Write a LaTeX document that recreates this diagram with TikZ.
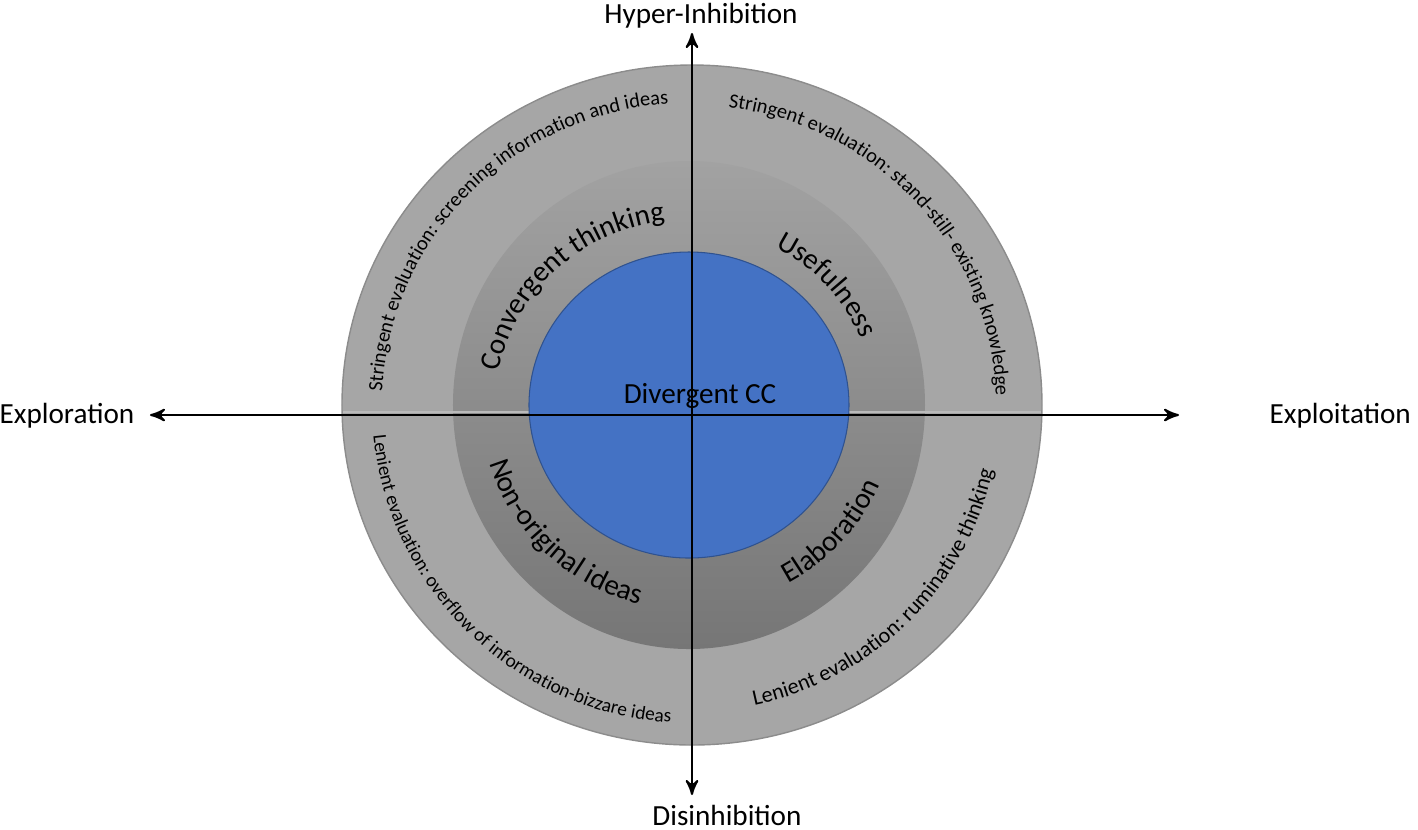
\documentclass[tikz,border=0pt]{standalone}
\usepackage{fontspec}
\setmainfont{Carlito}
\usetikzlibrary{arrows}
\usetikzlibrary{decorations.text}

\definecolor{outergray}{RGB}{166,166,166}
\definecolor{rimgray}{RGB}{140,140,140}
\definecolor{ringtop}{RGB}{162,162,162}
\definecolor{ringbot}{RGB}{118,118,118}
\definecolor{seamgray}{RGB}{186,186,186}
\definecolor{coreblue}{RGB}{68,114,196}
\definecolor{coreline}{RGB}{47,82,143}

\newcommand{\bigfont}{\fontsize{8.3}{10}\selectfont}
\newcommand{\smallfont}{\fontsize{5.8}{7}\selectfont}

\begin{document}
\begin{tikzpicture} [x=.01cm, y=.01cm,
  lbl/.style={font=\bigfont, inner sep=0pt},
  ringtext/.style={decorate, decoration={text along path, text align=center, text={#1}}}]
\useasboundingbox (-690,-424) rectangle (728,405);
% rings
\draw[rimgray, fill=outergray, line width=.4pt] (2,0) ellipse [x radius=350, y radius=340];
\shade[top color=ringtop, bottom color=ringbot] (-1,0) ellipse [x radius=236, y radius=244];
\draw[seamgray, line width=.3pt] (-347,-7) -- (351,-7);
\draw[coreline, fill=coreblue, line width=.3pt] (-1,0) ellipse [x radius=160, y radius=153];
% outer ring texts
\path[ringtext={|\smallfont|Stringent evaluation: screening information and ideas}]
  (206:308 and 302) arc[start angle=206, end angle=66, x radius=308, y radius=302];
\path[ringtext={|\smallfont|Stringent evaluation: stand-still- existing knowledge}]
  (112:306 and 300) arc[start angle=112, end angle=-28, x radius=306, y radius=300];
\path[ringtext={|\fontsize{5.5}{7}\selectfont|Lenient evaluation: overflow of information-bizzare ideas}]
  (156:318 and 318) arc[start angle=156, end angle=296, x radius=318, y radius=318];
\path[ringtext={|\fontsize{6.3}{7}\selectfont|Lenient evaluation: ruminative thinking}]
  (245:310 and 307) arc[start angle=245, end angle=385, x radius=310, y radius=307];
% middle ring texts
\path[ringtext={|\bigfont|Convergent thinking}]
  (194:194 and 186) arc[start angle=194, end angle=74, x radius=194, y radius=186];
\path[ringtext={|\bigfont|Usefulness}]
  (101.5:184 and 178) arc[start angle=101.5, end angle=-18.5, x radius=184, y radius=178];
\path[ringtext={|\bigfont|Non-original ideas}]
  (166:209 and 205) arc[start angle=166, end angle=286, x radius=209, y radius=205];
\path[ringtext={|\bigfont|Elaboration}]
  (258:206 and 203) arc[start angle=258, end angle=378, x radius=206, y radius=203];
% axes
\coordinate (W) at (-540,-10);
\coordinate (E) at (489,-10);
\coordinate (N) at (2,372);
\coordinate (S) at (2,-390);
\draw[black, line width=.6pt, <->, >=stealth'] (W)--(E);
\draw[black, line width=.6pt, <->, >=stealth'] (S)--(N);
\node[lbl, anchor=base east] (explo) at (-555,-18) {Exploration};
\node[lbl, anchor=base west] (exploit) at (579,-18) {Exploitation};
\node[lbl, anchor=base] (hyper) at (11,382) {Hyper-Inhibition};
\node[lbl, anchor=base] (disinh) at (37,-420) {Disinhibition};
\node[lbl, anchor=base] (core) at (10,2) {Divergent CC};
\end{tikzpicture}
\end{document}
